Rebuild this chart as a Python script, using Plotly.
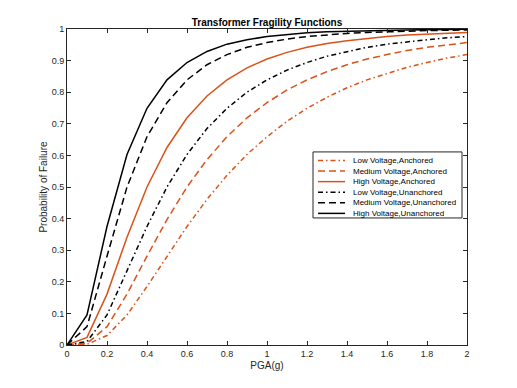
import plotly.graph_objects as go

# PGA values (g) where the curves were sampled
pga = [0.0, 0.1, 0.2, 0.3, 0.4, 0.5, 0.6, 0.7, 0.8, 0.9, 1.0,
       1.1, 1.2, 1.3, 1.4, 1.5, 1.6, 1.7, 1.8, 1.9, 2.0]

# probability of failure
low_anchored = [0, 0.002, 0.030, 0.095, 0.185, 0.281, 0.375, 0.461, 0.537, 0.603, 0.659,
                0.708, 0.749, 0.784, 0.814, 0.839, 0.860, 0.879, 0.894, 0.908, 0.919]
medium_anchored = [0, 0.005, 0.058, 0.161, 0.281, 0.397, 0.500, 0.587, 0.659, 0.719, 0.767,
                   0.807, 0.839, 0.865, 0.887, 0.905, 0.919, 0.932, 0.942, 0.950, 0.957]
high_anchored = [0, 0.024, 0.161, 0.341, 0.500, 0.625, 0.719, 0.788, 0.839, 0.877, 0.905,
                 0.926, 0.942, 0.954, 0.963, 0.970, 0.976, 0.981, 0.984, 0.987, 0.989]
low_unanchored = [0, 0.011, 0.095, 0.233, 0.375, 0.500, 0.603, 0.685, 0.749, 0.800, 0.839,
                  0.870, 0.894, 0.914, 0.929, 0.942, 0.952, 0.960, 0.966, 0.972, 0.976]
medium_unanchored = [0, 0.058, 0.281, 0.500, 0.659, 0.767, 0.839, 0.887, 0.919, 0.942, 0.957,
                     0.968, 0.976, 0.982, 0.986, 0.989, 0.992, 0.993, 0.995, 0.996, 0.997]
high_unanchored = [0, 0.095, 0.375, 0.603, 0.749, 0.839, 0.894, 0.929, 0.952, 0.966, 0.976,
                   0.983, 0.988, 0.991, 0.993, 0.995, 0.996, 0.997, 0.998, 0.998, 0.999]

names = ['Low Voltage,Anchored', 'Medium Voltage,Anchored', 'High Voltage,Anchored',
         'Low Voltage,Unanchored', 'Medium Voltage,Unanchored', 'High Voltage,Unanchored']
series = [low_anchored, medium_anchored, high_anchored,
          low_unanchored, medium_unanchored, high_unanchored]

RED = '#D95319'
AX = '#262626'
FONT = 'Liberation Sans, Arial, sans-serif'
colors = [RED, RED, RED, 'black', 'black', 'black']
DASHDOT = '5px,3px,1.5px,3px'
DASH = '7px,4px'
dashes = [DASHDOT, DASH, 'solid', DASHDOT, DASH, 'solid']

fig = go.Figure()

for name, vals, col, dash in zip(names, series, colors, dashes):
    fig.add_trace(go.Scatter(
        x=pga, y=vals, mode='lines', name=name,
        line=dict(color=col, width=1.5, dash=dash),
        showlegend=False
    ))

# legend drawn by hand (plotly's legend rows are too tall for this one)
shapes = [dict(type='rect', xref='paper', yref='paper',
               x0=0.615, x1=0.9875, y0=0.402, y1=0.611,
               line=dict(color=AX, width=1), fillcolor='white', layer='above')]
annotations = []
for i, (name, col, dash) in enumerate(zip(names, colors, dashes)):
    yy = 0.584 - i * 0.0335
    shapes.append(dict(type='line', xref='paper', yref='paper',
                       x0=0.6275, x1=0.695, y0=yy, y1=yy,
                       line=dict(color=col, width=1.5, dash=dash), layer='above'))
    annotations.append(dict(xref='paper', yref='paper', x=0.711, y=yy,
                            xanchor='left', yanchor='middle', showarrow=False,
                            text=name, font=dict(size=8, color='black', family=FONT)))

# the page body adds an 8px offset, so left/top margins are shrunk by 8
fig.update_layout(
    width=517, height=388,
    margin=dict(l=59, r=58, t=21, b=51, autoexpand=False),
    paper_bgcolor='white', plot_bgcolor='white',
    font=dict(family=FONT, size=9, color=AX),
    title=dict(text='<b>Transformer Fragility Functions</b>', x=0.5, xref='paper',
               y=1, yref='paper', yanchor='bottom', pad=dict(b=3), automargin=False,
               font=dict(size=10, color='black')),
    shapes=shapes, annotations=annotations
)
fig.update_xaxes(range=[0, 2], dtick=0.2, showgrid=False, zeroline=False,
                 showline=True, mirror='ticks', linecolor=AX, linewidth=1,
                 ticks='inside', ticklen=4, tickcolor=AX, automargin=False,
                 title=dict(text='PGA(g)', standoff=4, font=dict(size=10)))
fig.update_yaxes(range=[0, 1], dtick=0.1, showgrid=False, zeroline=False,
                 showline=True, mirror='ticks', linecolor=AX, linewidth=1,
                 ticks='inside', ticklen=4, tickcolor=AX, automargin=False,
                 title=dict(text='Probability of Failure', standoff=2, font=dict(size=10)))

fig.write_html("out.html")
